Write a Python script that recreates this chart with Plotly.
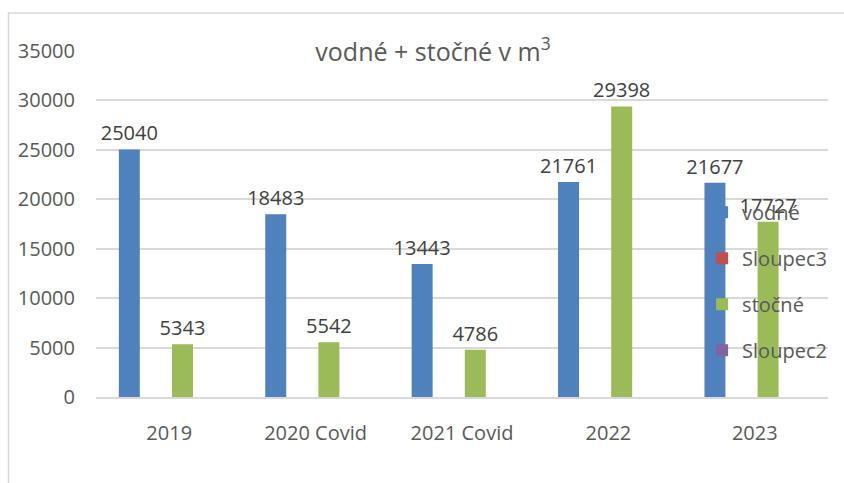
import plotly.graph_objects as go

categories = ["2019", "2020 Covid", "2021 Covid", "2022", "2023"]
vodne = [25040, 18483, 13443, 21761, 21677]
sloupec3 = [None, None, None, None, None]
stocne = [5343, 5542, 4786, 29398, 17727]
sloupec2 = [None, None, None, None, None]
y_ticks = [0, 5000, 10000, 15000, 20000, 25000, 30000, 35000]

FONT = "Open Sans, Liberation Sans, sans-serif"
series = [
    ("vodné", vodne, "#4F81BD"),
    ("Sloupec3", sloupec3, "#C0504D"),
    ("stočné", stocne, "#9BBB59"),
    ("Sloupec2", sloupec2, "#8064A2"),
]

fig = go.Figure()
for i, (name, vals, color) in enumerate(series):
    fig.add_trace(go.Bar(
        x=categories, y=vals, name=name, legendgroup=f"g{i}",
        marker=dict(color=color, line=dict(width=0)),
        texttemplate="%{y:d}", textposition="outside", cliponaxis=False,
        constraintext="none",
        textfont=dict(family=FONT, size=20, color="#404040"),
    ))

fig.update_layout(
    width=844, height=483,
    margin=dict(l=96, r=12, t=51, b=86),
    paper_bgcolor="white", plot_bgcolor="white",
    barmode="group", bargap=0.274, bargroupgap=0.21,
    font=dict(family=FONT, size=20, color="#595959"),
    title=dict(text="vodné + stočné v m<sup>3</sup>", x=433/844, xanchor="center",
               y=1 - 52/483, yanchor="middle", yref="container",
               font=dict(family=FONT, size=25, color="#595959")),
    showlegend=True,
    legend=dict(x=0.828, xanchor="left", y=0.59, yanchor="top",
                bgcolor="rgba(0,0,0,0)", traceorder="grouped", tracegroupgap=17,
                font=dict(family=FONT, size=20, color="#595959")),
    xaxis=dict(showgrid=False, showline=True, linecolor="#d9d9d9", linewidth=2,
               ticks="", ticklabelstandoff=17,
               tickfont=dict(family=FONT, size=20, color="#595959")),
    yaxis=dict(range=[0, 35000], tickvals=y_ticks, tickformat="d",
               showgrid=True, gridcolor="#d9d9d9", gridwidth=1.5,
               zeroline=False, showline=False, ticks="", ticklabelstandoff=20,
               tickfont=dict(family=FONT, size=20, color="#595959")),
    shapes=[dict(type="rect", xref="paper", yref="paper",
                 x0=(8 - 96) / 736, x1=(860 - 96) / 736,
                 y0=(397 - 500) / 346, y1=(397 - 13) / 346,
                 line=dict(color="#d9d9d9", width=1.5), fillcolor="rgba(0,0,0,0)",
                 layer="below")],
)

fig.write_html("out.html", config={"displayModeBar": False},
               post_script="document.body.style.margin='0px';")
